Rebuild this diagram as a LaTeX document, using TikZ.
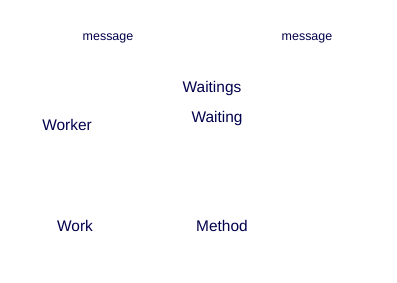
\documentclass[tikz,border=0pt]{standalone}
\usepackage{fontspec}
\setmainfont{Liberation Sans}
\usepackage{tikz}

\begin{document}
\begin{tikzpicture}[x=1bp,y=-1bp,
    lbl/.style={inner sep=0pt,text=black!70!blue,font=\fontsize{15.5}{18}\selectfont},
    msg/.style={inner sep=0pt,text=black!70!blue,font=\fontsize{12.5}{15}\selectfont}]
                      \useasboundingbox (0,0) rectangle (397,283);
                      \node[msg](msgl)at(108,38){message};
                      \node[msg](msgr)at(307,38){message};
                      \node[lbl](waits)at(212,89){Waitings};
                      \node[lbl](wait)at(217,119){Waiting};
                      \node[lbl](worker)at(67,125){Worker};
                      \node[lbl](work)at(75,226){Work};
                      \node[lbl](method)at(222,226){Method};
                  \end{tikzpicture}
\end{document}
